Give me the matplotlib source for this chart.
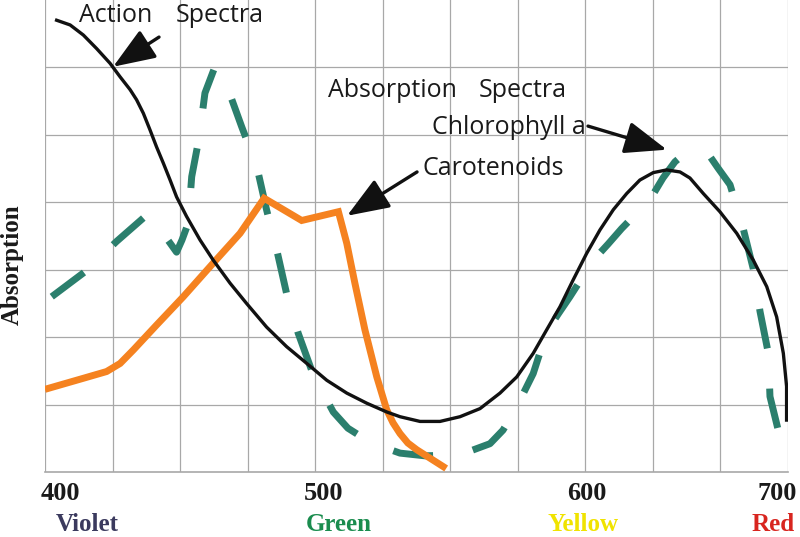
import numpy as np
import matplotlib
matplotlib.use("Agg")
import matplotlib.pyplot as plt

# wavelength (nm) and absorption (arbitrary units)
action_nm = [404.3, 409.3, 414.2, 419.1, 424.1, 427.8, 431.5, 433.9, 436.4, 438.9, 441.3, 443.8,
             446.3, 448.7, 452.4, 457.4, 462.3, 468.5, 474.6, 482.0, 489.4, 496.9, 504.3, 511.7,
             519.1, 526.5, 531.4, 538.8, 546.2, 553.6, 561.0, 568.4, 574.6, 580.7, 585.7, 590.6,
             595.5, 600.6, 607.2, 613.8, 620.4, 626.9, 633.5, 640.1, 646.7, 651.6, 658.2, 666.4,
             674.7, 682.9, 689.5, 694.4, 697.7, 699.3, 699.3]
action_abs = [6.70, 6.63, 6.48, 6.28, 6.06, 5.86, 5.67, 5.52, 5.32, 5.07, 4.82, 4.58,
              4.33, 4.08, 3.79, 3.44, 3.14, 2.80, 2.50, 2.15, 1.86, 1.61, 1.36, 1.17,
              1.02, 0.89, 0.82, 0.75, 0.75, 0.82, 0.94, 1.17, 1.41, 1.76, 2.11, 2.45,
              2.85, 3.24, 3.59, 3.89, 4.13, 4.33, 4.44, 4.48, 4.45, 4.36, 4.13, 3.86,
              3.54, 3.14, 2.75, 2.30, 1.76, 1.27, 0.77]

chl_nm = [402.5, 414.8, 426.5, 438.2, 443.7, 448.7, 450.7, 453.0, 454.3, 457.1, 459.2, 462.9,
          467.2, 472.8, 478.4, 482.0, 485.8, 489.4, 493.7, 499.3, 506.7, 512.1, 519.2, 525.8,
          531.4, 540.6, 549.9, 557.3, 564.7, 569.5, 574.0, 580.7, 585.7, 589.9, 594.3, 603.9,
          611.2, 617.9, 626.0, 632.7, 638.3, 644.2, 651.6, 659.9, 665.4, 671.4, 677.9, 682.8,
          686.2, 690.3, 691.1, 696.0]
chl_abs = [2.60, 2.97, 3.42, 3.83, 3.54, 3.26, 3.44, 3.69, 4.38, 4.97, 5.62, 6.01,
           5.74, 5.12, 4.53, 3.89, 3.29, 2.65, 2.06, 1.44, 0.89, 0.65, 0.47, 0.36,
           0.28, 0.24, 0.25, 0.31, 0.42, 0.62, 0.92, 1.46, 2.08, 2.34, 2.60, 3.14,
           3.38, 3.61, 3.86, 4.08, 4.36, 4.60, 4.79, 4.75, 4.51, 4.26, 3.61, 3.02,
           2.38, 1.76, 1.12, 0.52]

car_nm = [401.2, 414.2, 422.8, 427.8, 432.7, 441.3, 451.2, 462.3, 472.2, 481.1, 495.0, 508.6,
          511.7, 514.7, 518.4, 522.8, 526.5, 528.8, 531.4, 534.3, 537.6, 547.4]
car_abs = [1.24, 1.39, 1.49, 1.61, 1.81, 2.18, 2.60, 3.10, 3.54, 4.06, 3.73, 3.86,
           3.39, 2.80, 2.11, 1.41, 0.92, 0.73, 0.57, 0.43, 0.33, 0.08]

tick_nm = [400, 500, 600, 700]
colour_names = ['Violet', 'Green', 'Yellow', 'Red']
colour_cols = ['#3b3a5e', '#1a8c4e', '#f0e300', '#d8251f']

# the drawing's wavelength axis is not linear: 400-600 in 8 boxes, 600-700 in 3
def fwd(x):
    x = np.asarray(x, dtype=float)
    return np.where(x <= 600, (x - 400) / 25.0, 8 + (x - 600) / (100 / 3))

def inv(p):
    p = np.asarray(p, dtype=float)
    return np.where(p <= 8, 400 + 25.0 * p, 600 + (p - 8) * (100 / 3))

W, H = 800, 537
fig = plt.figure(figsize=(W / 100, H / 100), dpi=100)
ax = fig.add_axes([45 / W, 65 / H, 743 / W, 472 / H])
ax.set_xscale('function', functions=(fwd, inv))
ax.set_xlim(400, 700)
ax.set_ylim(0, 7)

gridc = '#a8a8a8'
vlines = [400 + 25 * i for i in range(9)] + [600 + 100 / 3, 600 + 200 / 3, 700]
for v in vlines:
    ax.axvline(v, color=gridc, lw=0.9, zorder=0)
for h in range(1, 7):
    ax.axhline(h, color=gridc, lw=0.9, zorder=0)
for s in ax.spines.values():
    s.set_visible(False)
ax.axhline(0, color=gridc, lw=1.2, zorder=0, clip_on=False)
ax.set_xticks([])
ax.set_yticks([])

ax.plot(chl_nm, chl_abs, color='#2b7f6d', lw=5, dashes=(5.8, 5.8),
        solid_capstyle='butt', dash_capstyle='butt', zorder=2)
ax.plot(car_nm, car_abs, color='#f58220', lw=5, solid_joinstyle='miter', zorder=3)
ax.plot(action_nm, action_abs, color='#111111', lw=2.4, zorder=4)

aprops = dict(arrowstyle='-|>,head_length=1.3,head_width=0.5', color='#111111',
              lw=2.4, mutation_scale=20, shrinkA=0, shrinkB=0)
ax.annotate('', xy=(425.2, 6.01), xytext=(442.2, 6.45), arrowprops=aprops)
ax.annotate('', xy=(640.2, 4.78), xytext=(601.3, 5.13), arrowprops=aprops)
ax.annotate('', xy=(511.8, 3.80), xytext=(537.7, 4.45), arrowprops=aprops)

sans = ['Open Sans', 'DejaVu Sans']
tc = '#1a1a1a'
def ptext(px, py, s, **kw):
    fig.text(px / W, 1 - py / H, s, va='baseline', **kw)

ptext(79, 22, 'Action', fontsize=18, family=sans, color=tc)
ptext(176, 22, 'Spectra', fontsize=18, family=sans, color=tc)
ptext(328, 97, 'Absorption', fontsize=18, family=sans, color=tc)
ptext(479, 97, 'Spectra', fontsize=18, family=sans, color=tc)
ptext(432, 134, 'Chlorophyll a', fontsize=18, family=sans, color=tc)
ptext(422, 175, 'Carotenoids', fontsize=18, family=sans, color=tc)

serif = ['Liberation Serif', 'DejaVu Serif']
for x, lab in zip([60, 323.5, 586.5, 777], tick_nm):
    ptext(x, 500, str(lab), fontsize=19, family=serif, weight='bold',
          color='#1a1a1a', ha='center')
for x, lab, c in zip([87.5, 338.5, 583, 773], colour_names, colour_cols):
    ptext(x, 531, lab, fontsize=18, family=serif, weight='bold', color=c, ha='center')

fig.text(12 / W, 1 - 265 / H, 'Absorption', rotation=90, ha='center', va='center',
         fontsize=18, family=serif, weight='bold', color='#1a1a1a')

fig.savefig('out.png', dpi=100)
